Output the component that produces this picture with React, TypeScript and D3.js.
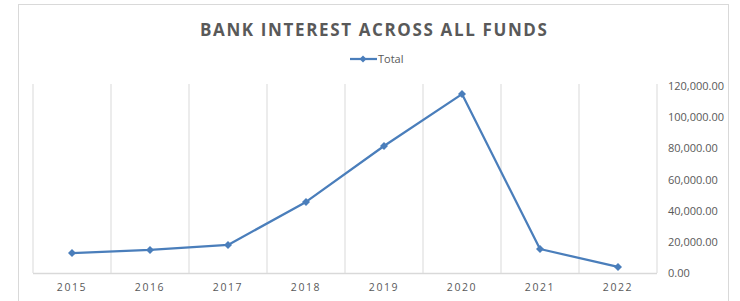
import React from "react";
import * as d3 from "d3";

const years = ["2015", "2016", "2017", "2018", "2019", "2020", "2021", "2022"];
const totals = [12800, 14800, 18000, 45600, 81500, 114800, 15400, 3900];
const yTicks = [0, 20000, 40000, 60000, 80000, 100000, 120000];

export default function App() {
  const W = 740, H = 301;
  const left = 33, right = 657, top = 86, bottom = 273;
  const x = d3.scaleBand<string>().domain(years).range([left, right]);
  const y = d3.scaleLinear().domain([0, 120000]).range([bottom, top]);
  const line = d3
    .line<number>()
    .x((_, i) => (x(years[i]) as number) + x.bandwidth() / 2)
    .y((d) => y(d));
  const fmt = d3.format(",.2f");
  const blue = "#4a7ebb";
  const diamond = (cx: number, cy: number, r = 4) =>
    `M${cx},${cy - r}L${cx + r},${cy}L${cx},${cy + r}L${cx - r},${cy}Z`;
  const font = "'Open Sans', sans-serif";
  const gridX = [...years.map((d) => x(d) as number), right];

  return (
    <svg
      width={W}
      height={H}
      style={{ position: "absolute", left: 0, top: 0, fontFamily: font }}
    >
      <rect x={0} y={0} width={W} height={H} fill="#fff" />
      <rect x={18.5} y={4.5} width={710} height={300} fill="#fff" stroke="#d9d9d9" />
      <text
        x={374}
        y={36}
        textAnchor="middle"
        fontSize={17}
        fontWeight="bold"
        fill="#595959"
        letterSpacing={1.1}
        textLength={348}
        lengthAdjust="spacing"
      >
        BANK INTEREST ACROSS ALL FUNDS
      </text>
      <g>
        <line x1={350} x2={377} y1={59} y2={59} stroke={blue} strokeWidth={2.25} />
        <path d={diamond(363, 59, 3.5)} fill={blue} />
        <text x={378} y={63} fontSize={11} fill="#595959">
          Total
        </text>
      </g>
      {gridX.map((gx, i) => (
        <line key={i} x1={gx} x2={gx} y1={top - 2} y2={bottom} stroke="#d9d9d9" strokeWidth={1} />
      ))}
      <line x1={left} x2={right} y1={bottom + 0.5} y2={bottom + 0.5} stroke="#d9d9d9" strokeWidth={1.5} />
      {years.map((yr) => (
        <text
          key={yr}
          x={(x(yr) as number) + x.bandwidth() / 2}
          y={291}
          textAnchor="middle"
          fontSize={10.5}
          fill="#595959"
          letterSpacing={1.6}
        >
          {yr}
        </text>
      ))}
      {yTicks.map((t) => (
        <text key={t} x={668} y={y(t) + 4} fontSize={11} fill="#595959">
          {fmt(t)}
        </text>
      ))}
      <path d={line(totals) || ""} fill="none" stroke={blue} strokeWidth={2.25} strokeLinejoin="round" />
      {totals.map((v, i) => (
        <path
          key={i}
          d={diamond((x(years[i]) as number) + x.bandwidth() / 2, y(v), 4)}
          fill={blue}
        />
      ))}
    </svg>
  );
}
